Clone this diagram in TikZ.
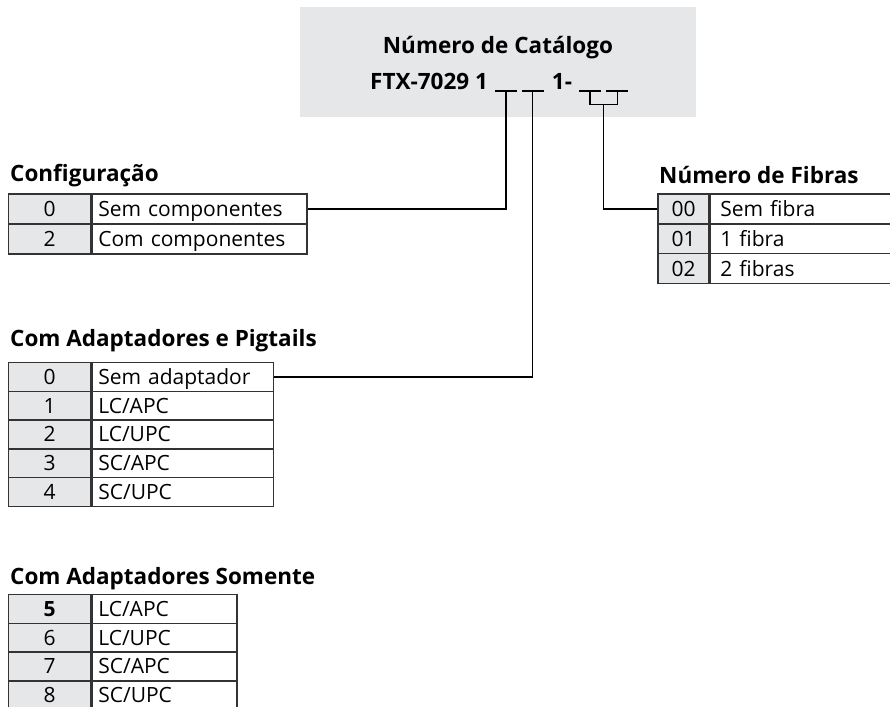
\documentclass[tikz,border=0pt]{standalone}
\usepackage{fontspec}
\setmainfont{Open Sans}
\usetikzlibrary{positioning}
\definecolor{boxgray}{HTML}{E6E7E8}
\definecolor{rulegray}{HTML}{333333}

\begin{document}
\begin{tikzpicture}[
    x=1pt, y=-1pt,
    node distance=0pt,
    heading/.style={anchor=base west, inner sep=0pt, font=\fontsize{22.5}{25}\selectfont\bfseries},
    codecell/.style={rectangle, draw=rulegray, line width=1.4pt, fill=boxgray, anchor=north west, inner sep=0pt, minimum width=81.7pt, minimum height=30pt, text height=15pt, text depth=0pt, font=\fontsize{21}{24}\selectfont},
    desccell/.style={rectangle, draw=rulegray, line width=1.4pt, fill=white, inner xsep=6.5pt, inner ysep=0pt, align=left, minimum height=30pt, text height=15pt, text depth=0pt, font=\fontsize{21}{24}\selectfont},
    link/.style={draw=black, line width=1.4pt},
    blank/.style={draw=black, line width=1.1pt}
    ]

    \useasboundingbox (0,0) rectangle (890,706);
    \clip (0,0) rectangle (890,706);

    \node[fill=boxgray, anchor=north west, inner sep=0pt, minimum width=396pt, minimum height=110pt] (hdr) at (300,7) {};
    \node[heading, anchor=base] (cattitle) at (498,54) {Número de Catálogo};
    \node[heading] (catcode) at (370,90) {FTX-7029 1};
    \node[heading] (catdash) at (551.7,90) {1-};
    \foreach \l/\r in {495/517, 522/544, 579/601, 606/628} {
      \draw[blank] (\l,91) -- (\r,91);
    }

    % configuracao
    \node[heading] (cfgtitle) at (10,181.7) {Configuração};
    \foreach \code/\desc [count=\i] in {0/Sem componentes, 2/Com componentes} {
      \node[codecell] (cfg-c\i) at (8, {193.3+(\i-1)*30}) {\code};
      \node[desccell, text width=202pt, right=of cfg-c\i] (cfg-d\i) {\desc};
    }

    % numero de fibras
    \node[heading] (fibtitle) at (659,183.3) {Número de Fibras};
    \foreach \code/\desc [count=\i] in {00/Sem fibra, 01/1 fibra, 02/2 fibras} {
      \node[codecell, minimum width=51pt] (fib-c\i) at (657.3, {193.3+(\i-1)*29.8}) {\code};
      \node[desccell, inner xsep=10pt, text width=172pt, minimum height=29.8pt, right=of fib-c\i] (fib-d\i) {\desc};
    }

    % adaptadores e pigtails
    \node[heading] (pigtitle) at (10,346.7) {Com Adaptadores e Pigtails};
    \foreach \code/\desc [count=\i] in {0/Sem adaptador, 1/{LC/APC}, 2/{LC/UPC}, 3/{SC/APC}, 4/{SC/UPC}} {
      \node[codecell, minimum height=28.8pt] (pig-c\i) at (8, {361.7+(\i-1)*28.8}) {\code};
      \node[desccell, text width=168.7pt, minimum height=28.8pt, right=of pig-c\i] (pig-d\i) {\desc};
    }

    % adaptadores somente
    \node[heading] (somtitle) at (10,584) {Com Adaptadores Somente};
    \foreach \code/\desc [count=\i] in {{\bfseries 5}/{LC/APC}, 6/{LC/UPC}, 7/{SC/APC}, 8/{SC/UPC}} {
      \node[codecell, minimum height=28.7pt] (som-c\i) at (8, {594+(\i-1)*28.7}) {\code};
      \node[desccell, text width=132pt, minimum height=28.7pt, right=of som-c\i] (som-d\i) {\desc};
    }

    \coordinate (cfgtap) at (506,91);
    \coordinate (pigtap) at (532.7,91);
    \coordinate (fibl) at (590,91);
    \coordinate (fibr) at (617.3,91);
    \coordinate (fibtap) at (603.6,104.7);
    \draw[link] (cfgtap) |- (cfg-d1.east);
    \draw[link] (pigtap) |- (pig-d1.east);
    \draw[link] (fibl) |- (fibtap) -| (fibr);
    \draw[link] (fibtap) |- (fib-c1.west);

\end{tikzpicture}
\end{document}
